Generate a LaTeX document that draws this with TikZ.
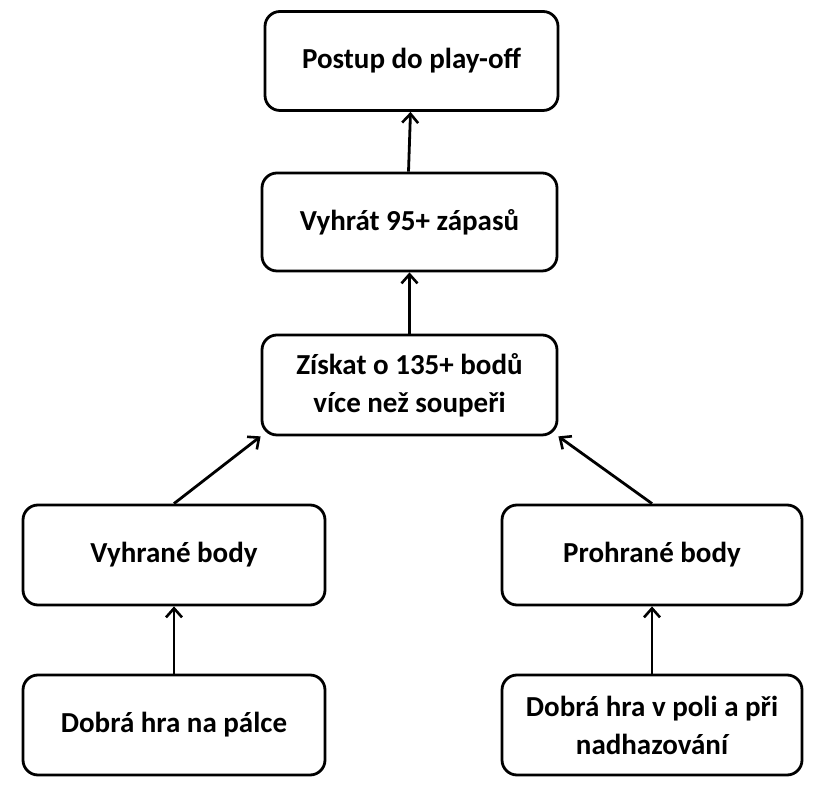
\documentclass[tikz,border=0pt]{standalone}
\usepackage{fontspec}
\setmainfont{Carlito}
\usetikzlibrary{arrows.meta}
\begin{document}
\begin{tikzpicture}[x=1pt,y=1pt,
  box/.style={draw=black, line width=2.8pt, rounded corners=15pt, fill=white, align=center,
    font=\bfseries\fontsize{29}{38}\selectfont, inner sep=0pt},
  conn/.style={line width=2.8pt, -{Straight Barb[length=9pt,width=16pt,line width=2.6pt]}}]
\useasboundingbox (0,0) rectangle (834,799);
\node[box, minimum width=293pt, minimum height=99pt] (top) at (411.5,738) {Postup do play-off};
\node[box, minimum width=295pt, minimum height=98pt] (win) at (409.5,577) {Vyhrát 95+ zápasů};
\node[box, minimum width=295pt, minimum height=100pt] (pts) at (409.5,414) {Získat o 135+ bodů\\více než soupeři};
\node[box, minimum width=302pt, minimum height=100pt] (vb) at (174,244) {Vyhrané body};
\node[box, minimum width=300pt, minimum height=100pt] (pb) at (652,244) {Prohrané body};
\node[box, minimum width=302pt, minimum height=100pt] (bat) at (174,74) {Dobrá hra na pálce};
\node[box, minimum width=300pt, minimum height=100pt] (fld) at (652,74) {Dobrá hra v poli a při\\nadhazování};
\draw[conn] (win.north) ++(-1,0) -- ([xshift=-1pt]top.south);
\draw[conn] (pts.north) -- (win.south);
\draw[conn] (vb.north) -- (pts.south west);
\draw[conn] (pb.north) -- (pts.south east);
\draw[conn] (bat.north) -- (vb.south);
\draw[conn] (fld.north) -- (pb.south);
\end{tikzpicture}
\end{document}
